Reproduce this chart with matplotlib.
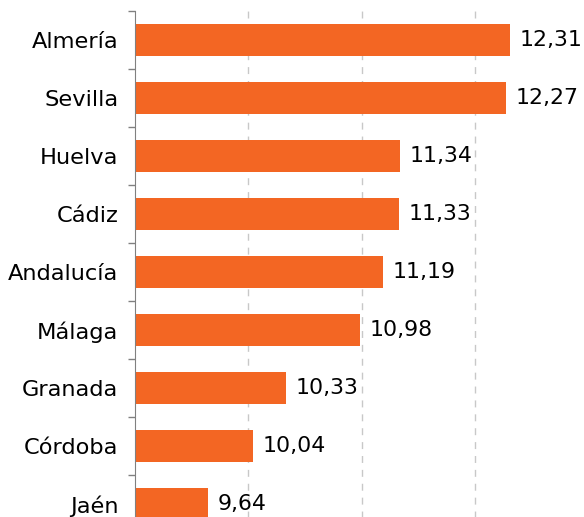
import numpy as np
import matplotlib
matplotlib.use("Agg")
import matplotlib.pyplot as plt

# datos: tasa por provincia
provincias = ["Almería", "Sevilla", "Huelva", "Cádiz", "Andalucía",
              "Málaga", "Granada", "Córdoba", "Jaén"]
valores = [12.31, 12.27, 11.34, 11.33, 11.19, 10.98, 10.33, 10.04, 9.64]
etiquetas = ["12,31", "12,27", "11,34", "11,33", "11,19",
             "10,98", "10,33", "10,04", "9,64"]

naranja = "#F36623"

fig = plt.figure(figsize=(5.84, 5.17), dpi=100)
# el area de trazado sobresale por abajo y por la derecha (recorte original)
ax = fig.add_axes([135 / 584, -16.3 / 517, 453.6 / 584, 522 / 517])

y = np.arange(len(provincias))
ax.barh(y, np.array(valores) - 9, left=9, height=0.55, color=naranja, zorder=2)

for yi, v, t in zip(y, valores, etiquetas):
    ax.text(v + 0.085, yi, t, va="center", ha="left", fontsize=15.8, color="black")

ax.set_xlim(9, 13)
ax.set_ylim(len(provincias) - 0.5, -0.5)
ax.set_xticks([10, 11, 12])
ax.set_xticklabels([])
ax.tick_params(axis="x", length=0)
ax.xaxis.grid(True, color="#C8C8C8", linestyle=(0, (5, 5)), linewidth=1, zorder=0)

# marcas del eje y entre categorias
ax.set_yticks(np.arange(-0.5, len(provincias), 1), minor=False)
ax.set_yticklabels([])
ax.set_yticks(y, minor=True)
ax.set_yticklabels(provincias, minor=True, fontsize=16.2)
ax.tick_params(axis="y", which="minor", length=0, pad=12)
ax.tick_params(axis="y", which="major", length=5, color="#808080", width=1)

for s in ["top", "right", "bottom"]:
    ax.spines[s].set_visible(False)
ax.spines["left"].set_color("#808080")

fig.savefig("out.png", dpi=100)
